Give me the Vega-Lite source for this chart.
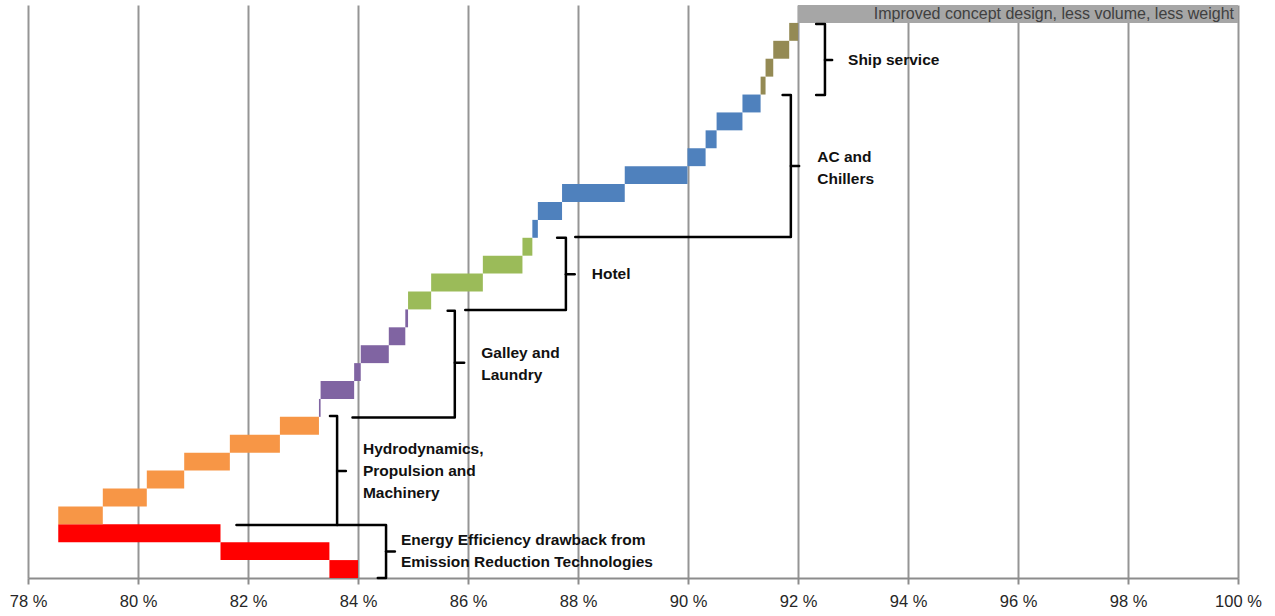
{
  "$schema": "https://vega.github.io/schema/vega-lite/v6.json",
  "width": 1210,
  "height": 573,
  "autosize": {"type": "none"},
  "padding": {"left": 28, "top": 5, "right": 37, "bottom": 38},
  "background": "white",
  "config": {"view": {"stroke": null}, "font": "Liberation Sans"},
  "datasets": {
    "bars": [
      {"step": 0, "start": 84.0, "end": 83.48, "group": "Emission"},
      {"step": 1, "start": 83.48, "end": 81.5, "group": "Emission"},
      {"step": 2, "start": 81.5, "end": 78.55, "group": "Emission"},
      {"step": 3, "start": 78.55, "end": 79.36, "group": "Hydro"},
      {"step": 4, "start": 79.36, "end": 80.16, "group": "Hydro"},
      {"step": 5, "start": 80.16, "end": 80.84, "group": "Hydro"},
      {"step": 6, "start": 80.84, "end": 81.67, "group": "Hydro"},
      {"step": 7, "start": 81.67, "end": 82.58, "group": "Hydro"},
      {"step": 8, "start": 82.58, "end": 83.29, "group": "Hydro"},
      {"step": 9, "start": 83.29, "end": 83.32, "group": "Galley"},
      {"step": 10, "start": 83.32, "end": 83.93, "group": "Galley"},
      {"step": 11, "start": 83.93, "end": 84.05, "group": "Galley"},
      {"step": 12, "start": 84.05, "end": 84.56, "group": "Galley"},
      {"step": 13, "start": 84.56, "end": 84.86, "group": "Galley"},
      {"step": 14, "start": 84.86, "end": 84.91, "group": "Galley"},
      {"step": 15, "start": 84.91, "end": 85.33, "group": "Hotel"},
      {"step": 16, "start": 85.33, "end": 86.27, "group": "Hotel"},
      {"step": 17, "start": 86.27, "end": 86.99, "group": "Hotel"},
      {"step": 18, "start": 86.99, "end": 87.17, "group": "Hotel"},
      {"step": 19, "start": 87.17, "end": 87.27, "group": "AC"},
      {"step": 20, "start": 87.27, "end": 87.71, "group": "AC"},
      {"step": 21, "start": 87.71, "end": 88.85, "group": "AC"},
      {"step": 22, "start": 88.85, "end": 89.99, "group": "AC"},
      {"step": 23, "start": 89.99, "end": 90.32, "group": "AC"},
      {"step": 24, "start": 90.32, "end": 90.52, "group": "AC"},
      {"step": 25, "start": 90.52, "end": 90.99, "group": "AC"},
      {"step": 26, "start": 90.99, "end": 91.32, "group": "AC"},
      {"step": 27, "start": 91.32, "end": 91.41, "group": "Ship"},
      {"step": 28, "start": 91.41, "end": 91.55, "group": "Ship"},
      {"step": 29, "start": 91.55, "end": 91.84, "group": "Ship"},
      {"step": 30, "start": 91.84, "end": 92.0, "group": "Ship"},
      {"step": 31, "start": 92.0, "end": 100.0, "group": "Concept"}
    ],
    "brackets": [
      {"b": "energy", "o": 1, "pct": 81.79, "row": 2.96},
      {"b": "energy", "o": 2, "pct": 84.51, "row": 2.96},
      {"b": "energy", "o": 3, "pct": 84.51, "row": 0.0},
      {"b": "energy", "o": 4, "pct": 84.36, "row": 0.0},
      {"b": "energy_nub", "o": 1, "pct": 84.51, "row": 1.48},
      {"b": "energy_nub", "o": 2, "pct": 84.67, "row": 1.48},
      {"b": "hydro", "o": 1, "pct": 83.49, "row": 9.05},
      {"b": "hydro", "o": 2, "pct": 83.62, "row": 9.05},
      {"b": "hydro", "o": 3, "pct": 83.62, "row": 2.96},
      {"b": "hydro_nub", "o": 1, "pct": 83.62, "row": 5.98},
      {"b": "hydro_nub", "o": 2, "pct": 83.78, "row": 5.98},
      {"b": "galley", "o": 1, "pct": 85.63, "row": 14.93},
      {"b": "galley", "o": 2, "pct": 85.76, "row": 14.93},
      {"b": "galley", "o": 3, "pct": 85.76, "row": 8.97},
      {"b": "galley", "o": 4, "pct": 83.9, "row": 8.97},
      {"b": "galley_nub", "o": 1, "pct": 85.76, "row": 12.02},
      {"b": "galley_nub", "o": 2, "pct": 85.93, "row": 12.02},
      {"b": "hotel", "o": 1, "pct": 87.62, "row": 19.0},
      {"b": "hotel", "o": 2, "pct": 87.78, "row": 19.0},
      {"b": "hotel", "o": 3, "pct": 87.78, "row": 14.97},
      {"b": "hotel", "o": 4, "pct": 85.95, "row": 14.97},
      {"b": "hotel_nub", "o": 1, "pct": 87.78, "row": 16.96},
      {"b": "hotel_nub", "o": 2, "pct": 87.94, "row": 16.96},
      {"b": "ac", "o": 1, "pct": 91.72, "row": 26.97},
      {"b": "ac", "o": 2, "pct": 91.87, "row": 26.97},
      {"b": "ac", "o": 3, "pct": 91.87, "row": 19.04},
      {"b": "ac", "o": 4, "pct": 87.95, "row": 19.04},
      {"b": "ac_nub", "o": 1, "pct": 91.87, "row": 23.01},
      {"b": "ac_nub", "o": 2, "pct": 92.02, "row": 23.01},
      {"b": "ship", "o": 1, "pct": 92.33, "row": 30.94},
      {"b": "ship", "o": 2, "pct": 92.49, "row": 30.94},
      {"b": "ship", "o": 3, "pct": 92.49, "row": 26.97},
      {"b": "ship", "o": 4, "pct": 92.33, "row": 26.97},
      {"b": "ship_nub", "o": 1, "pct": 92.49, "row": 28.93},
      {"b": "ship_nub", "o": 2, "pct": 92.62, "row": 28.93}
    ],
    "labels": [
      {"label": "Energy Efficiency drawback from\nEmission Reduction Technologies", "pct": 84.78, "row": 2.12},
      {"label": "Hydrodynamics,\nPropulsion and\nMachinery", "pct": 84.09, "row": 7.2},
      {"label": "Galley and\nLaundry", "pct": 86.24, "row": 12.57},
      {"label": "Hotel", "pct": 88.25, "row": 16.98},
      {"label": "AC and\nChillers", "pct": 92.35, "row": 23.53},
      {"label": "Ship service", "pct": 92.91, "row": 28.93}
    ],
    "concept": [
      {"label": "Improved concept design, less volume, less weight", "pct": 100, "row": 31.5}
    ]
  },
  "resolve": {"scale": {"y": "independent"}},
  "layer": [
    {
      "data": {"name": "bars"},
      "mark": {"type": "bar"},
      "encoding": {
        "x": {
          "field": "start", "type": "quantitative",
          "scale": {"domain": [78, 100], "nice": false, "zero": false},
          "axis": {
            "values": [78, 80, 82, 84, 86, 88, 90, 92, 94, 96, 98, 100],
            "labelExpr": "datum.value + ' %'",
            "title": null,
            "grid": true, "gridColor": "#959595", "gridWidth": 2,
            "domainColor": "#8c8c8c", "domainWidth": 2,
            "tickColor": "#8c8c8c", "tickWidth": 2, "tickSize": 6,
            "labelFontSize": 16.5, "labelColor": "#262626", "labelPadding": 9,
            "labelFont": "Liberation Sans", "labelFlush": false, "labelOverlap": false
          }
        },
        "x2": {"field": "end"},
        "y": {
          "field": "step", "type": "ordinal", "sort": "descending",
          "scale": {"paddingInner": 0, "paddingOuter": 0},
          "axis": null
        },
        "color": {
          "field": "group", "type": "nominal", "legend": null,
          "scale": {
            "domain": ["Emission", "Hydro", "Galley", "Hotel", "AC", "Ship", "Concept"],
            "range": ["#FF0000", "#F79646", "#8064A2", "#9BBB59", "#4F81BD", "#948A54", "#A6A6A6"]
          }
        }
      }
    },
    {
      "data": {"name": "brackets"},
      "mark": {"type": "line", "color": "black", "strokeWidth": 2.5, "strokeJoin": "round", "strokeCap": "round", "clip": false},
      "encoding": {
        "x": {"field": "pct", "type": "quantitative", "scale": {"domain": [78, 100], "nice": false, "zero": false}},
        "y": {"field": "row", "type": "quantitative", "scale": {"domain": [0, 32], "nice": false, "zero": false}, "axis": null},
        "detail": {"field": "b", "type": "nominal"},
        "order": {"field": "o", "type": "quantitative"}
      }
    },
    {
      "data": {"name": "labels"},
      "mark": {"type": "text", "align": "left", "baseline": "middle", "lineBreak": "\n", "lineHeight": 22, "fontWeight": "bold", "fontSize": 15.5, "font": "Liberation Sans", "color": "#111111"},
      "encoding": {
        "x": {"field": "pct", "type": "quantitative", "scale": {"domain": [78, 100], "nice": false, "zero": false}},
        "y": {"field": "row", "type": "quantitative", "scale": {"domain": [0, 32], "nice": false, "zero": false}, "axis": null},
        "text": {"field": "label"}
      }
    },
    {
      "data": {"name": "concept"},
      "mark": {"type": "text", "align": "right", "baseline": "middle", "dx": -4, "fontSize": 16, "font": "Liberation Sans", "color": "#404040"},
      "encoding": {
        "x": {"field": "pct", "type": "quantitative", "scale": {"domain": [78, 100], "nice": false, "zero": false}},
        "y": {"field": "row", "type": "quantitative", "scale": {"domain": [0, 32], "nice": false, "zero": false}, "axis": null},
        "text": {"field": "label"}
      }
    }
  ]
}
